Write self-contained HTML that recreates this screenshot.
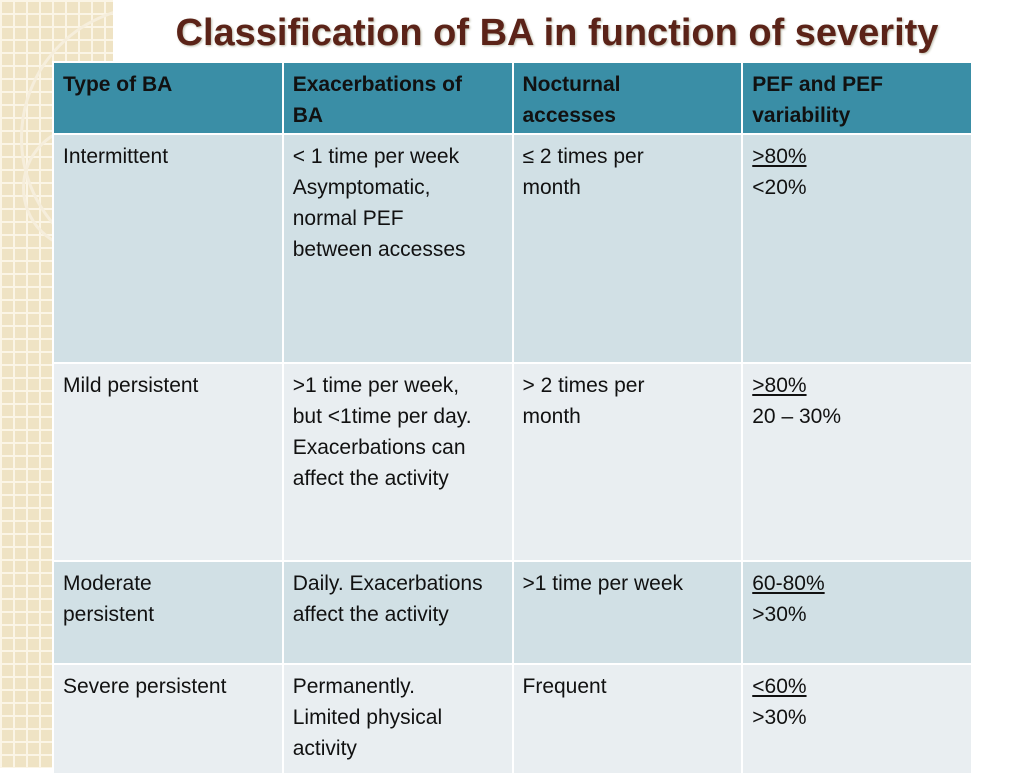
<!DOCTYPE html>
<html><head><meta charset="utf-8"><style>
body{margin:0;width:1024px;height:768px;overflow:hidden;background:#fff;font-family:"Liberation Sans",sans-serif;position:relative}
.bg{position:absolute;left:0;top:0;width:113px;height:768px;background-color:#efe3c4;background-image:linear-gradient(#fbf5e6 2px,transparent 2px),linear-gradient(90deg,#fbf5e6 2px,transparent 2px);background-size:13px 13px}
.ring{position:absolute;border:3px solid #f6eedc;border-radius:50%}
h1{position:absolute;left:113px;width:888px;top:12px;margin:0;text-align:center;font-size:38px;font-weight:bold;color:#5b2318;text-shadow:1px 1px 2px #bba;white-space:nowrap}
table{position:absolute;left:52px;top:61px;border-collapse:collapse;width:921px;table-layout:fixed}
td,th{border:2px solid #fff;vertical-align:top;text-align:left;padding:6px 9px 0 9px;font-size:21px;line-height:31px;color:#111;white-space:nowrap;overflow:hidden}
th{background:#3a8ea6;font-weight:bold}
tr.a td{background:#d1e0e5}
tr.b td{background:#e9eef1}
u{text-decoration:underline}
</style></head><body>
<div class="bg"></div>
<div class="ring" style="left:20px;top:5px;width:260px;height:260px"></div>
<div class="ring" style="left:22px;top:125px;width:120px;height:120px"></div>
<div style="position:absolute;left:113px;top:0;width:911px;height:61px;background:#fff"></div>
<h1>Classification of BA in function of severity</h1>
<table>
<tr style="height:72px"><th>Type of BA</th><th>Exacerbations of<br>BA</th><th>Nocturnal<br>accesses</th><th>PEF and PEF<br>variability</th></tr>
<tr class="a" style="height:229px"><td>Intermittent</td><td>&lt; 1 time per week<br>Asymptomatic,<br>normal PEF<br>between accesses</td><td>≤ 2 times per<br>month</td><td><u>&gt;80%</u><br>&lt;20%</td></tr>
<tr class="b" style="height:198px"><td>Mild persistent</td><td>&gt;1 time per week,<br>but &lt;1time per day.<br>Exacerbations can<br>affect the activity</td><td>&gt; 2 times per<br>month</td><td><u>&gt;80%</u><br>20 – 30%</td></tr>
<tr class="a" style="height:103px"><td>Moderate<br>persistent</td><td>Daily. Exacerbations<br>affect the activity</td><td>&gt;1 time per week</td><td><u>60-80%</u><br>&gt;30%</td></tr>
<tr class="b" style="height:110px"><td>Severe persistent</td><td>Permanently.<br>Limited physical<br>activity</td><td>Frequent</td><td><u>&lt;60%</u><br>&gt;30%</td></tr>
</table>
</body></html>
